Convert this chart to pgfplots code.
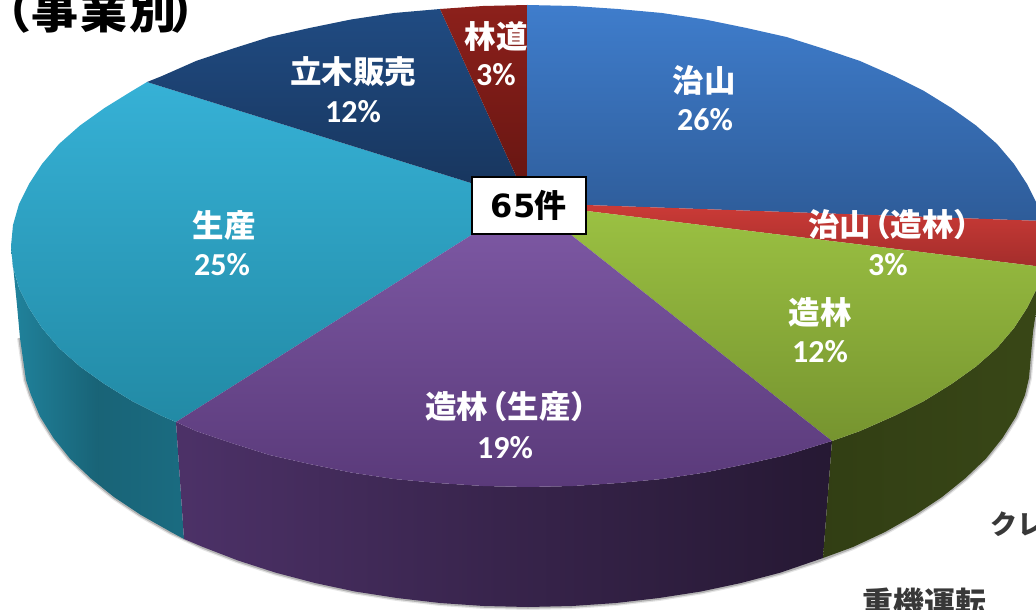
\documentclass[border=0pt]{standalone}
\usepackage{pgfplots}
\pgfplotsset{compat=1.18}
\usepackage{fontspec}
\setmainfont{Carlito}
\newfontfamily\cjk{Noto Sans CJK JP}
\newfontfamily\djv{DejaVu Sans}
\definecolor{bluet}{HTML}{3F7DCC}\definecolor{blueb}{HTML}{2E5C99}
\definecolor{redt}{HTML}{CC3B37}\definecolor{redb}{HTML}{A32D2B}
\definecolor{greent}{HTML}{9CC243}\definecolor{greenb}{HTML}{76942F}
\definecolor{purt}{HTML}{7F5AA6}\definecolor{purb}{HTML}{5A3A7A}
\definecolor{tealt}{HTML}{36B1D6}\definecolor{tealb}{HTML}{228AA5}
\definecolor{navyt}{HTML}{204B82}\definecolor{navyb}{HTML}{17345B}
\definecolor{brt}{HTML}{8C201B}\definecolor{brb}{HTML}{641511}
\tikzset{lab/.style={text=white,font=\cjk\bfseries\fontsize{31.5}{31.5}\selectfont,inner sep=0pt},
 pct/.style={text=white,font=\bfseries\fontsize{32}{32}\selectfont,inner sep=0pt}}
\begin{document}
\begin{tikzpicture}
\path[use as bounding box,clip] (0,0) rectangle (1036pt,610pt);
\begin{axis}[at={(0,0)},anchor=south west,scale only axis,width=1036pt,height=610pt,
 xmin=0,xmax=1036,ymin=0,ymax=610,y dir=reverse,hide axis]
\pgfplotstableset{}
% soft shadow along the lower outer rim
\addplot[draw=black,line width=6pt,opacity=.10] coordinates {
 (20,338)(26,380)(31,395)(40,416.5)(53.5,438)(70,458.6)(91,478.5)(114,497)(141,515)(171,532)(203,547)(238,560.5)(275.5,572.6)(315,583)(355,591.5)(397,598)(440,603)(484,606)(528,607)(572,606)(616,603)(659,598)(701,591.5)(741,583)(780.5,572.6)(818,560.5)(853,547)(885,532)(915,515)(942,497)(965,478.5)(986,458.6)(1002.5,438)(1016,416.5)(1025,395)(1029,378)(1033,332)(1037,305)};
\addplot[draw=black,line width=3.5pt,opacity=.22] coordinates {
 (20,338)(26,380)(31,395)(40,416.5)(53.5,438)(70,458.6)(91,478.5)(114,497)(141,515)(171,532)(203,547)(238,560.5)(275.5,572.6)(315,583)(355,591.5)(397,598)(440,603)(484,606)(528,607)(572,606)(616,603)(659,598)(701,591.5)(741,583)(780.5,572.6)(818,560.5)(853,547)(885,532)(915,515)(942,497)(965,478.5)(986,458.6)(1002.5,438)(1016,416.5)(1025,395)(1029,378)(1033,332)(1037,305)};
% side faces
\addplot[draw=none,left color=tealb!95!black,right color=tealb!78!black,middle color=tealb!72!black] coordinates {
 (11,246)(13,267)(19,288)(29,308)(42,328)(59,348)(80,366.5)(104.5,384)(132,401)(162,416)(176,422)(184,539)(171,532)(141,515)(114,497)(91,478.5)(70,458.6)(53.5,438)(40,416.5)(31,395)(26,380)(20,338)(17,305)(14,275)};
\addplot[draw=none,left color=purb!85!black,right color=purb!42!black,middle color=purb!62!black] coordinates {
 (176,422)(196,431)(231.5,443)(269.5,455)(309.5,464)(351,472.5)(394,479)(438,483)(483,486)(528,487)(573,486)(618,483)(662,479)(705,472.5)(746.5,464)(786.5,455)(832,441)(823,558)(780.5,572.6)(741,583)(701,591.5)(659,598)(616,603)(572,606)(528,607)(484,606)(440,603)(397,598)(355,591.5)(315,583)(275.5,572.6)(238,560.5)(203,547)(184,539)};
\addplot[draw=none,left color=greenb!42!black,right color=greenb!48!black] coordinates {
 (832,441)(860,431)(894,416)(924,401)(951.5,384)(976,366.5)(997,348)(1014,328)(1027,308)(1037,288)(1043,267)(1045,246)(1042,275)(1037,305)(1033,332)(1029,378)(1025,395)(1016,416.5)(1002.5,438)(986,458.6)(965,478.5)(942,497)(915,515)(885,532)(853,547)(823,558)};
% top faces
\addplot[draw=none,top color=tealt,bottom color=tealb] coordinates {
 (147,82)(471,183)(527,203)(473,234)(176,422)(162,416)(132,401)(104.5,384)(80,366.5)(59,348)(42,328)(29,308)(19,288)(13,267)(11,246)(13,225)(19,204)(29,184)(42,164)(59,144)(80,125.5)(104.5,108)(132,91)};
\addplot[draw=none,top color=navyt,bottom color=navyb] coordinates {
 (440,9)(516,176)(527,203)(471,183)(147,82)(162,76)(196,61)(231.5,49)(269.5,37)(309.5,28)(351,19.5)(394,13)};
\addplot[draw=none,top color=brt,bottom color=brb] coordinates {
 (440,9)(483,6)(527.5,5)(527.5,203)(516,176)};
\addplot[draw=none,top color=bluet,bottom color=blueb] coordinates {
 (527.5,5)(573,6)(618,9)(662,13)(705,19.5)(746.5,28)(786.5,37)(824.5,49)(860,61)(894,76)(924,91)(951.5,108)(976,125.5)(997,144)(1014,164)(1027,184)(1037,204)(1043,221)(586,205)(527.5,203)};
\addplot[draw=none,top color=redt,bottom color=redb] coordinates {
 (527,203)(586,205)(1043,221)(1045,246)(1043,267)(587,211)};
\addplot[draw=none,top color=greent,bottom color=greenb] coordinates {
 (527,203)(587,211)(1043,267)(1037,288)(1027,308)(1014,328)(997,348)(976,366.5)(951.5,384)(924,401)(894,416)(860,431)(832,441)(570,234)};
\addplot[draw=none,top color=purt,bottom color=purb] coordinates {
 (527,203)(570,234)(832,441)(786.5,455)(746.5,464)(705,472.5)(662,479)(618,483)(573,486)(528,487)(483,486)(438,483)(394,479)(351,472.5)(309.5,464)(269.5,455)(231.5,443)(196,431)(176,422)(473,234)};
% labels
\node[lab] at (axis cs:353,72) {立木販売};
\node[pct] at (axis cs:353,112) {12\%};
\node[lab] at (axis cs:496,36) {林道};
\node[pct] at (axis cs:496,75) {3\%};
\node[lab] at (axis cs:704,80) {治山};
\node[pct] at (axis cs:705,120) {26\%};
\node[lab,anchor=west] at (axis cs:808,225) {治山\kern-.38em（造林）};
\node[pct] at (axis cs:888,265) {3\%};
\node[lab] at (axis cs:820,312) {造林};
\node[pct] at (axis cs:820,352) {12\%};
\node[lab] at (axis cs:224,225) {生産};
\node[pct] at (axis cs:222,265) {25\%};
\node[lab,anchor=west] at (axis cs:425,407) {造林\kern-.38em（生産）};
\node[pct] at (axis cs:505,448) {19\%};
% centre box
\node[draw=black,line width=2pt,fill=white,minimum width=114pt,minimum height=57pt,inner sep=0pt,
 font=\fontsize{32}{32}\selectfont] at (axis cs:528.5,205) {\djv\bfseries 65\kern-1pt\cjk\bfseries 件};
% cut-off text
\node[font=\cjk\bfseries\fontsize{47}{47}\selectfont,inner sep=0pt,text=black,anchor=west] at (axis cs:-16,11) {（事\kern2pt 業\kern2pt 別\kern-6pt）};
\node[font=\cjk\bfseries\fontsize{27}{27}\selectfont,inner sep=0pt,anchor=west,text=black!78] at (axis cs:990,524) {クレーン};
\node[font=\cjk\bfseries\fontsize{31}{31}\selectfont,inner sep=0pt,text=black!78] at (axis cs:924,603) {重機運転};
\end{axis}
\end{tikzpicture}
\end{document}
